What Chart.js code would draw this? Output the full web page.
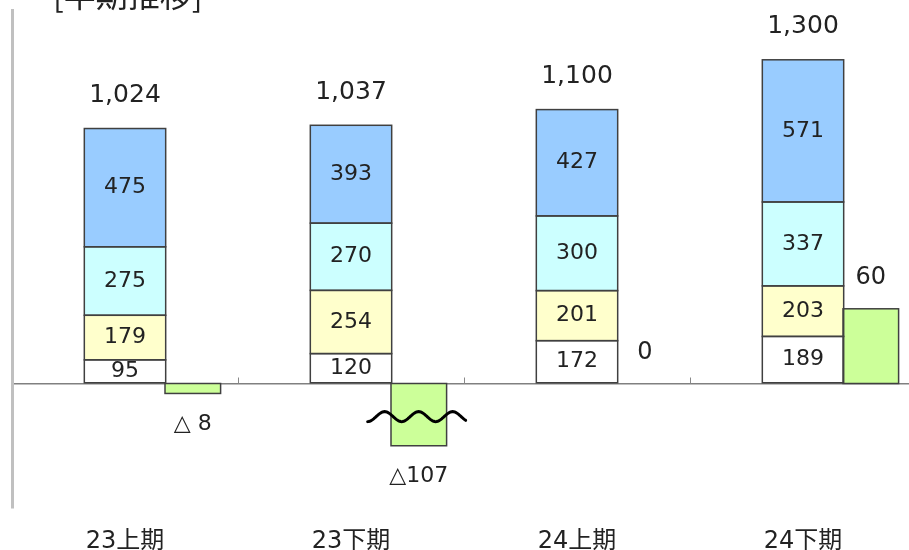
<!DOCTYPE html>
<html>
<head>
<meta charset="utf-8">
<script src="https://cdn.jsdelivr.net/npm/chart.js@4"></script>
<style>
  html, body { margin: 0; padding: 0; background: #fff; overflow: hidden; }
  #wrap { position: relative; width: 916px; height: 550px; }
  #title { position: absolute; left: 53px; top: -23px; font-size: 32px; line-height: 1;
           font-family: "Noto Sans CJK JP", sans-serif; color: #222; white-space: nowrap; }
</style>
</head>
<body>
<div id="wrap">
  <canvas id="graph"></canvas>
  <div id="title">[半期推移]</div>
</div>
<script>
const categories = ['23上期', '23下期', '24上期', '24下期'];

// stacked parts, bottom to top
const part1 = [95, 120, 172, 189];
const part2 = [179, 254, 201, 203];
const part3 = [275, 270, 300, 337];
const part4 = [475, 393, 427, 571];
const totals = [1024, 1037, 1100, 1300];

// change vs previous half (own scale)
const diffs = [-8, -107, 0, 60];
const diffLabels = ['△ 8', '△107', '0', '60'];
const axisBreak = -50;   // bars below this are cut with a wave

const colors = ['#FFFFFF', '#FFFFCC', '#CCFFFF', '#99CCFF'];
const diffColor = '#CCFF99';
const edge = '#404040';
const textColor = '#222';

const numFont = '"DejaVu Sans", "Noto Sans CJK JP", sans-serif';

function partSet(data, color){
    return {
        data: data,
        stack: 'main',
        yAxisID: 'y',
        backgroundColor: color,
        borderWidth: 0,
        categoryPercentage: 0.9,
        barPercentage: 1.2
    }
}

const labelPlugin = {
    id: 'labels',
    afterDatasetsDraw(chart){
        const ctx = chart.ctx;
        ctx.save();

        // outlines, one line per edge so shared edges stay single
        ctx.strokeStyle = edge;
        ctx.lineWidth = 1.5;
        chart.data.datasets.forEach((ds, di) => {
            if(ds.stack === 'pad') return;
            chart.getDatasetMeta(di).data.forEach(bar => {
                const h = bar.base - bar.y;
                if(Math.abs(h) < 0.5) return;
                ctx.strokeRect(bar.x - bar.width / 2, Math.min(bar.y, bar.base), bar.width, Math.abs(h));
            })
        })

        ctx.textAlign = 'center';
        ctx.textBaseline = 'middle';
        ctx.fillStyle = textColor;

        // values inside the stacked parts
        ctx.font = '22px ' + numFont;
        chart.data.datasets.forEach((ds, di) => {
            if(ds.stack !== 'main') return;
            chart.getDatasetMeta(di).data.forEach((bar, i) => {
                ctx.fillText(ds.data[i], bar.x, (bar.y + bar.base) / 2);
            })
        })

        // totals above the stacks
        ctx.font = '25px ' + numFont;
        const topMeta = chart.getDatasetMeta(4);
        topMeta.data.forEach((bar, i) => {
            ctx.fillText(totals[i].toLocaleString('en-US'), bar.x, bar.y - 33);
        })

        // difference bars
        const diffMeta = chart.getDatasetMeta(5);
        diffMeta.data.forEach((bar, i) => {
            const v = diffs[i];
            if(v < 0){
                ctx.font = '22px ' + numFont;
                ctx.fillText(diffLabels[i], bar.x, bar.y + 31);
            } else {
                ctx.font = '24px ' + numFont;
                ctx.fillText(diffLabels[i], bar.x, bar.y - 31);
            }

            if(v < axisBreak){
                const w = bar.width;
                const yc = (bar.y + bar.base) / 2 + 2;
                const x0 = bar.x - w * 0.92;
                const x1 = bar.x + w * 0.85;
                const period = 34;
                ctx.beginPath();
                for(let x = x0; x <= x1; x += 1){
                    const y = yc + 5 * Math.cos(2 * Math.PI * (x - x0) / period);
                    if(x === x0) ctx.moveTo(x, y); else ctx.lineTo(x, y);
                }
                ctx.strokeStyle = '#000';
                ctx.lineWidth = 3;
                ctx.lineCap = 'round';
                ctx.stroke();
            }
        })
        ctx.restore();
    },
    afterDraw(chart){
        // little marks between categories on the zero line
        const ctx = chart.ctx;
        const xs = chart.scales.x;
        const y0 = chart.scales.y.getPixelForValue(0);
        ctx.save();
        ctx.strokeStyle = '#888';
        ctx.lineWidth = 1;
        for(let i = 1; i < categories.length; i++){
            const x = Math.round((xs.getPixelForValue(i - 1) + xs.getPixelForValue(i)) / 2) + 0.5;
            ctx.beginPath();
            ctx.moveTo(x, y0);
            ctx.lineTo(x, y0 - 6);
            ctx.stroke();
        }
        ctx.restore();
    }
};

const chart = new Chart(document.querySelector('#graph').getContext('2d'), {
    type: 'bar',
    data: {
        labels: categories,
        datasets: [
            // empty slot on the left so the stack sits in the middle
            { data: [], stack: 'pad', yAxisID: 'y', categoryPercentage: 0.9, barPercentage: 1 },
            partSet(part1, colors[0]),
            partSet(part2, colors[1]),
            partSet(part3, colors[2]),
            partSet(part4, colors[3]),
            {
                data: diffs.map(v => Math.max(v, axisBreak)),
                stack: 'diff',
                yAxisID: 'y2',
                backgroundColor: diffColor,
                borderWidth: 0,
                categoryPercentage: 0.9,
                barPercentage: 0.82
            }
        ]
    },
    options: {
        responsive: true,
        maintainAspectRatio: false,
        animation: false,
        layout: { padding: { left: 12, top: 10, right: 0, bottom: 0 } },
        plugins: {
            legend: { display: false },
            tooltip: { enabled: false },
            title: { display: false }
        },
        scales: {
            x: {
                grid: { display: false },
                border: { display: false },
                afterFit(scale){ scale.height = 42; },
                ticks: {
                    color: textColor,
                    padding: 14,
                    maxRotation: 0,
                    font: { family: numFont, size: 24, lineHeight: 1 }
                }
            },
            y: {
                stacked: true,
                min: -500,
                max: 1500,
                ticks: { display: false, stepSize: 500 },
                grid: {
                    drawTicks: false,
                    color: (c) => c.tick && c.tick.value === 0 ? '#808080' : 'rgba(0,0,0,0)',
                    lineWidth: 1.5
                },
                border: { display: true, color: '#c0c0c0', width: 3 }
            },
            y2: {
                display: false,
                min: -100,
                max: 300,
                grid: { display: false }
            }
        }
    },
    plugins: [labelPlugin]
});
</script>
</body>
</html>
